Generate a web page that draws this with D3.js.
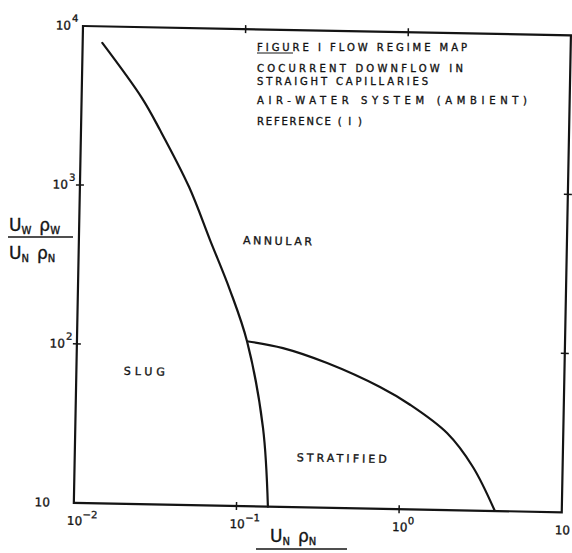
<!DOCTYPE html>
<html>
<head>
<meta charset="utf-8">
<script src="https://cdn.jsdelivr.net/npm/d3@7/dist/d3.min.js"></script>
<style>
  html, body { margin: 0; padding: 0; background: #fff; }
  svg { display: block; }
  text { font-family: "DejaVu Sans", "Liberation Sans", sans-serif; fill: #141414; }
  .lettering { stroke: #141414; stroke-width: 0.35px; }
</style>
</head>
<body>
<svg id="chart" width="572" height="553"></svg>
<script>
// Boundary between slug and annular/stratified regimes
const slugBoundaryX = [0.0132, 0.0235, 0.0306, 0.0469, 0.064, 0.0861, 0.111, 0.1425, 0.156];
const slugBoundaryY = [7870, 3580, 2265, 1000, 467, 227, 109, 31.2, 10];
// Boundary between annular and stratified regimes
const stratBoundaryX = [0.111, 0.185, 0.347, 0.738, 1.135, 1.93, 2.81, 3.88];
const stratBoundaryY = [109, 99.7, 81.3, 58.3, 45.5, 30.5, 18.8, 10];

// Axis decades and their labels
const xTicks = [0.01, 0.1, 1, 10];
const xTickExp = ["\u22122", "\u22121", "0", ""];
const yTicks = [10, 100, 1000, 10000];
const yTickExp = ["", "2", "3", "4"];

// Regime names, placed in data coordinates
const regimeNames = ["ANNULAR", "SLUG", "STRATIFIED"];
const regimeAt = [[0.102, 471], [0.0196, 68.6], [0.232, 20.6]];

// Caption lines
const captionLines = [
  "FIGURE I  FLOW REGIME MAP",
  "COCURRENT DOWNFLOW  IN",
  "STRAIGHT CAPILLARIES",
  "AIR-WATER SYSTEM (AMBIENT)",
  "REFERENCE ( I )"
];

const svg = d3.select("#chart");
const pLeft = 83, pRight = 571, pTop = 26, pBottom = 503;
const ink = "#141414";

const x = d3.scaleLog().domain([0.01, 10]).range([pLeft, pRight]);
const y = d3.scaleLog().domain([10, 10000]).range([pBottom, pTop]);

// the whole sheet sits slightly turned
const g = svg.append("g").attr("transform", `rotate(1.1, ${pLeft}, ${pTop})`);

// frame
g.append("rect")
  .attr("x", pLeft).attr("y", pTop)
  .attr("width", pRight - pLeft).attr("height", pBottom - pTop)
  .attr("fill", "none").attr("stroke", ink).attr("stroke-width", 2.2);

// cross ticks on all four sides at inner decades
const crossLen = 4;
const innerX = xTicks.slice(1, -1), innerY = yTicks.slice(1, -1);
[pBottom, pTop].forEach(yy => {
  g.selectAll(null).data(innerX).enter().append("line")
    .attr("x1", d => x(d)).attr("x2", d => x(d))
    .attr("y1", yy - crossLen).attr("y2", yy + crossLen)
    .attr("stroke", ink).attr("stroke-width", 1.5);
});
[pLeft, pRight].forEach(xx => {
  g.selectAll(null).data(innerY).enter().append("line")
    .attr("y1", d => y(d)).attr("y2", d => y(d))
    .attr("x1", xx - crossLen).attr("x2", xx + crossLen)
    .attr("stroke", ink).attr("stroke-width", 1.5);
});

// x tick labels
xTicks.forEach((v, i) => {
  const cx = x(v) + 1;
  g.append("text").attr("class", "lettering").attr("x", cx).attr("y", pBottom + 22)
    .attr("text-anchor", "middle").attr("font-size", 12).text("10");
  if (xTickExp[i]) {
    g.append("text").attr("class", "lettering").attr("x", cx + 8).attr("y", pBottom + 15)
      .attr("font-size", 10).text(xTickExp[i]);
  }
});

// y tick labels
yTicks.forEach((v, i) => {
  const exp = yTickExp[i];
  const endX = pLeft - (exp ? 12 : 24);
  g.append("text").attr("class", "lettering").attr("x", endX).attr("y", y(v) + 4)
    .attr("text-anchor", "end").attr("font-size", 12).text("10");
  if (exp) {
    g.append("text").attr("class", "lettering").attr("x", endX + 1).attr("y", y(v) - 4)
      .attr("font-size", 10).text(exp);
  }
});

// regime boundaries
const line = d3.line()
  .x(d => x(d[0])).y(d => y(d[1]))
  .curve(d3.curveCatmullRom.alpha(0.5));

g.append("path")
  .datum(slugBoundaryX.map((v, i) => [v, slugBoundaryY[i]]))
  .attr("d", line).attr("fill", "none")
  .attr("stroke", ink).attr("stroke-width", 2.2).attr("stroke-linecap", "round");

g.append("path")
  .datum(stratBoundaryX.map((v, i) => [v, stratBoundaryY[i]]))
  .attr("d", line).attr("fill", "none")
  .attr("stroke", ink).attr("stroke-width", 2.2);

// regime names
const regimeW = [69, 41, 90];
regimeNames.forEach((name, i) => {
  g.append("text").attr("class", "lettering")
    .attr("x", x(regimeAt[i][0])).attr("y", y(regimeAt[i][1]) + 4)
    .attr("font-size", 11).attr("textLength", regimeW[i])
    .attr("lengthAdjust", "spacing").text(name);
});

// caption block, lettered level on the sheet
const capX = 257;
const capY = [51, 72, 85, 104, 125];
const capW = [210, 206, 171, 270, 105];
captionLines.forEach((s, i) => {
  svg.append("text").attr("class", "lettering").attr("x", capX).attr("y", capY[i])
    .attr("font-size", 10).attr("textLength", capW[i])
    .attr("lengthAdjust", "spacing").text(s);
});
svg.append("line")
  .attr("x1", capX).attr("x2", capX + 36)
  .attr("y1", capY[0] + 2).attr("y2", capY[0] + 2)
  .attr("stroke", ink).attr("stroke-width", 1);

// axis quantity U_sub ρ_sub
function quantity(parent, lx, by, sub) {
  const t = parent.append("text").attr("class", "lettering")
    .attr("x", lx).attr("y", by).attr("font-size", 17);
  t.append("tspan").text("U");
  t.append("tspan").attr("font-size", 10).attr("dy", 3).text(sub);
  t.append("tspan").attr("dy", -3).attr("dx", 8).text("\u03C1");
  t.append("tspan").attr("font-size", 10).attr("dy", 3).text(sub);
  return t;
}
// y axis title as a fraction
quantity(svg, 9, 231, "W");
svg.append("line").attr("x1", 8).attr("x2", 73).attr("y1", 237).attr("y2", 237)
  .attr("stroke", ink).attr("stroke-width", 1.6);
quantity(svg, 9, 259, "N");

// x axis title
quantity(svg, 270, 542, "N");
svg.append("line").attr("x1", 256).attr("x2", 347).attr("y1", 549).attr("y2", 549)
  .attr("stroke", ink).attr("stroke-width", 1.6);
</script>
</body>
</html>
